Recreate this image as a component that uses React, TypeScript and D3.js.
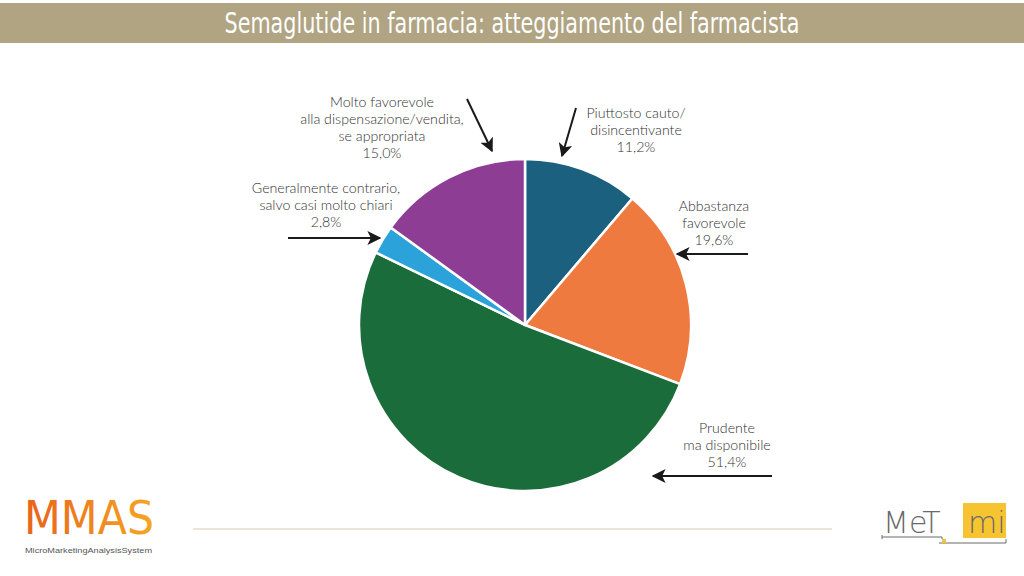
import * as d3 from "d3";

const categories = [
  "Piuttosto cauto/\ndisincentivante",
  "Abbastanza\nfavorevole",
  "Prudente\nma disponibile",
  "Generalmente contrario,\nsalvo casi molto chiari",
  "Molto favorevole\nalla dispensazione/vendita,\nse appropriata",
];
const values = [11.2, 19.6, 51.4, 2.8, 15.0];
const colours = ["#1c6080", "#ee7a3f", "#1a6d3a", "#2ba2da", "#8d3d93"];

const W = 1024;
const H = 576;
const CX = 525;
const CY = 325;
const R = 166;
const LINE_H = 17;

// label anchor (centre, first baseline) + arrow from/to, per slice
const LABELS = [
  { x: 636, y: 118, arrow: [576, 108, 562, 156] },
  { x: 714, y: 211, arrow: [748, 254, 677, 254] },
  { x: 727, y: 433, arrow: [772, 476, 653, 476] },
  { x: 326, y: 193, arrow: [288, 238, 380, 238] },
  { x: 382, y: 107, arrow: [467, 99, 492, 151] },
];

const fmt = (v: number) => v.toFixed(1).replace(".", ",") + "%";

export default function App() {
  const pie = d3
    .pie<number>()
    .sort(null)
    .value((d) => d);
  const arc = d3.arc<d3.PieArcDatum<number>>().innerRadius(0).outerRadius(R);
  const arcs = pie(values);

  return (
    <svg
      width={W}
      height={H}
      style={{ position: "absolute", left: 0, top: 0, background: "#fff" }}
    >
      <defs>
        <marker
          id="head"
          viewBox="0 0 10 10"
          refX={9}
          refY={5}
          markerWidth={14}
          markerHeight={14}
          orient="auto"
          markerUnits="userSpaceOnUse"
        >
          <path d="M0,0 L10,5 L0,10 L2.5,5 Z" fill="#1a1a1a" />
        </marker>
        <linearGradient id="mmas" x1="0" x2="1" y1="0" y2="0">
          <stop offset="0" stopColor="#e8621a" />
          <stop offset="1" stopColor="#f6a623" />
        </linearGradient>
      </defs>

      {/* title bar */}
      <rect x={0} y={3} width={W} height={40} fill="#b0a482" />
      <text
        x={512}
        y={33}
        textAnchor="middle"
        fill="#fff"
        textLength={575}
        lengthAdjust="spacingAndGlyphs"
        style={{ font: "28px 'DejaVu Sans Condensed', 'Liberation Sans Narrow', sans-serif" }}
      >
        Semaglutide in farmacia: atteggiamento del farmacista
      </text>

      {/* pie */}
      <g transform={`translate(${CX},${CY})`}>
        {arcs.map((a, i) => (
          <path
            key={i}
            d={arc(a) ?? ""}
            fill={colours[i]}
            stroke="#fff"
            strokeWidth={2.5}
            strokeLinejoin="round"
          />
        ))}
      </g>

      {/* labels */}
      {categories.map((c, i) => {
        const lines = [...c.split("\n"), fmt(values[i])];
        const l = LABELS[i];
        const [x1, y1, x2, y2] = l.arrow;
        return (
          <g key={i}>
            <text
              x={l.x}
              y={l.y}
              textAnchor="middle"
              fill="#333"
              style={{ font: "300 14.2px Lato, 'Open Sans', sans-serif" }}
            >
              {lines.map((t, j) => (
                <tspan key={j} x={l.x} dy={j === 0 ? 0 : LINE_H}>
                  {t}
                </tspan>
              ))}
            </text>
            <line
              x1={x1}
              y1={y1}
              x2={x2}
              y2={y2}
              stroke="#1a1a1a"
              strokeWidth={2}
              markerEnd="url(#head)"
            />
          </g>
        );
      })}

      {/* footer */}
      <line x1={193} x2={832} y1={529} y2={529} stroke="#d8ccb0" strokeWidth={1} />

      <g>
        <text
          x={24}
          y={534}
          fill="url(#mmas)"
          textLength={130}
          lengthAdjust="spacingAndGlyphs"
          style={{ font: "46px 'Liberation Sans Narrow', 'DejaVu Sans Condensed', sans-serif" }}
        >
          MMAS
        </text>
        <text
          x={25}
          y={553}
          fill="#555"
          textLength={127}
          lengthAdjust="spacingAndGlyphs"
          style={{ font: "7.6px 'Liberation Sans', sans-serif" }}
        >
          MicroMarketingAnalysisSystem
        </text>
      </g>

      <g>
        <text
          x={883}
          y={533}
          fill="#6a6a6a"
          style={{ font: "300 30px 'DejaVu Sans', sans-serif" }}
        >
          MeT
        </text>
        <rect x={963} y={503} width={43} height={35} fill="#f6c431" />
        <text
          x={968}
          y={533}
          fill="#6a6a6a"
          style={{ font: "300 30px 'DejaVu Sans', sans-serif" }}
        >
          mi
        </text>
        <path
          d="M882,539 V535 M882,537 H942 V539 M939,543 H1006 V539"
          fill="none"
          stroke="#6a6a6a"
          strokeWidth={1}
        />
        <rect x={942} y={539} width={4} height={4} fill="#f6c431" />
      </g>
    </svg>
  );
}
